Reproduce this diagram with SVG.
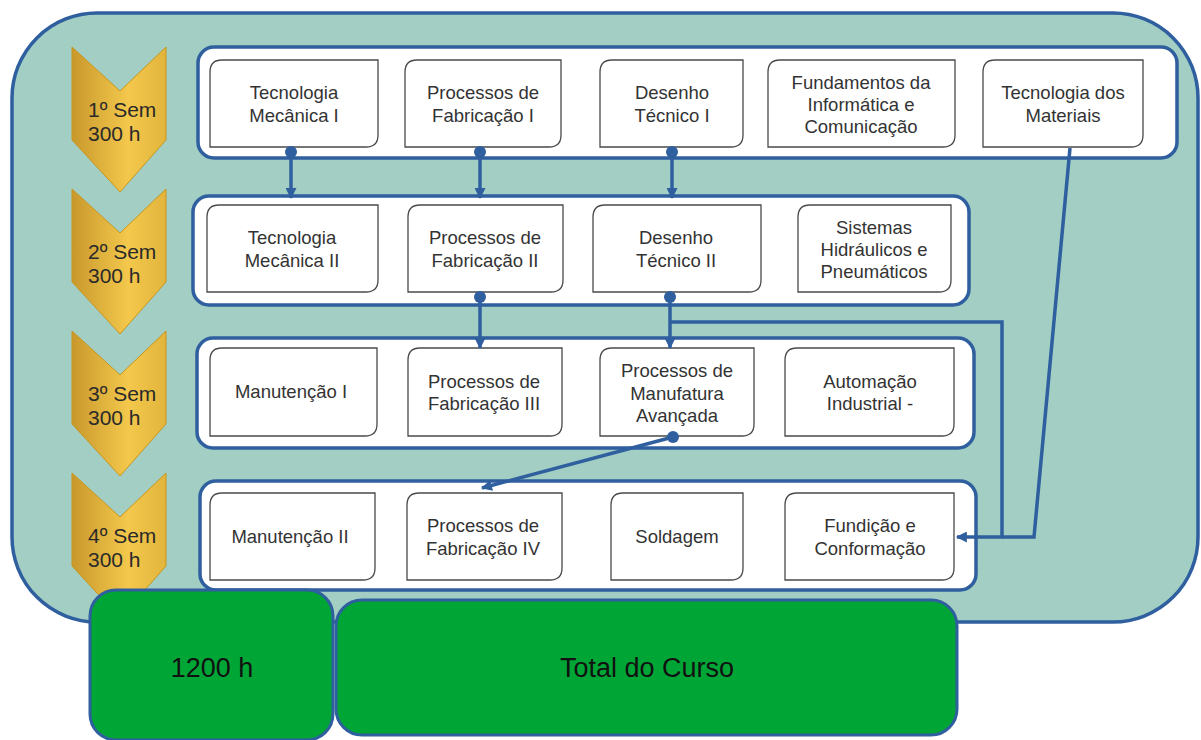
<svg xmlns="http://www.w3.org/2000/svg" width="1201" height="740" viewBox="0 0 1201 740">
<style>
.row{fill:#fff;stroke:#2f5f9e;stroke-width:3.5}
.box{fill:#fff;stroke:#4a4a4a;stroke-width:1.3}
.t{font-family:"Liberation Sans",Arial,sans-serif;font-size:18.5px;fill:#333;text-anchor:middle}
.sem{font-family:"Liberation Sans",Arial,sans-serif;font-size:21px;fill:#2a2a2a}
.big{font-family:"Liberation Sans",Arial,sans-serif;font-size:27px;fill:#111;text-anchor:middle}
.chev{fill:url(#gold);stroke:#c8961e;stroke-width:1}
.green{fill:#00a635;stroke:#2f5f9e;stroke-width:3}
.c{fill:none;stroke:#2f5f9e;stroke-width:3.5}
.dot{fill:#2f5f9e}
</style>
<defs>
<linearGradient id="gold" x1="0" y1="0" x2="1" y2="0">
<stop offset="0" stop-color="#c9982c"/>
<stop offset="0.6" stop-color="#f3c84c"/>
<stop offset="1" stop-color="#e2b43c"/>
</linearGradient>
<marker id="ah" viewBox="0 0 10 10" markerWidth="13" markerHeight="11" refX="9" refY="5" orient="auto" markerUnits="userSpaceOnUse">
<path d="M0,0 L10,5 L0,10 z" fill="#2f5f9e"/>
</marker>
</defs>

<rect id="outer" x="12" y="13" width="1186" height="609" rx="85" fill="#a2cec4" stroke="#2f5f9e" stroke-width="3.5"/>

<g id="sem1">
<path class="chev" d="M72,47 L120,91 L166,47 L166,140 L120,192 L72,140 Z"/>
<text class="sem" x="88" y="117">1º Sem</text>
<text class="sem" x="88" y="141">300 h</text>
</g>
<g id="sem2">
<path class="chev" d="M72,189 L120,233 L166,189 L166,282 L120,334 L72,282 Z"/>
<text class="sem" x="88" y="259">2º Sem</text>
<text class="sem" x="88" y="283">300 h</text>
</g>
<g id="sem3">
<path class="chev" d="M72,331 L120,375 L166,331 L166,424 L120,476 L72,424 Z"/>
<text class="sem" x="88" y="401">3º Sem</text>
<text class="sem" x="88" y="425">300 h</text>
</g>
<g id="sem4">
<path class="chev" d="M72,473 L120,517 L166,473 L166,566 L120,618 L72,566 Z"/>
<text class="sem" x="88" y="543">4º Sem</text>
<text class="sem" x="88" y="567">300 h</text>
</g>

<rect id="row1" class="row" x="198" y="47" width="979" height="111" rx="16"/>
<rect id="row2" class="row" x="193" y="196" width="776" height="109" rx="16"/>
<rect id="row3" class="row" x="197" y="338" width="777" height="110" rx="16"/>
<rect id="row4" class="row" x="200" y="481" width="776" height="109" rx="16"/>

<g id="tecmec1">
<path class="box" d="M222,60 H378 V135 Q378,147 366,147 H210 V72 Q210,60 222,60 Z"/>
<text class="t" x="294" y="99">Tecnologia</text>
<text class="t" x="294" y="122">Mecânica I</text>
</g>
<g id="procfab1">
<path class="box" d="M417,60 H561 V135 Q561,147 549,147 H405 V72 Q405,60 417,60 Z"/>
<text class="t" x="483" y="99">Processos de</text>
<text class="t" x="483" y="122">Fabricação I</text>
</g>
<g id="desenho1">
<path class="box" d="M612,60 H743 V135 Q743,147 731,147 H600 V72 Q600,60 612,60 Z"/>
<text class="t" x="672" y="99">Desenho</text>
<text class="t" x="672" y="122">Técnico I</text>
</g>
<g id="fundamentos">
<path class="box" d="M780,60 H955 V135 Q955,147 943,147 H768 V72 Q768,60 780,60 Z"/>
<text class="t" x="861" y="89">Fundamentos da</text>
<text class="t" x="861" y="111">Informática e</text>
<text class="t" x="861" y="133">Comunicação</text>
</g>
<g id="tecmat">
<path class="box" d="M995,60 H1143 V135 Q1143,147 1131,147 H983 V72 Q983,60 995,60 Z"/>
<text class="t" x="1063" y="99">Tecnologia dos</text>
<text class="t" x="1063" y="122">Materiais</text>
</g>

<g id="tecmec2">
<path class="box" d="M219,205 H378 V280 Q378,292 366,292 H207 V217 Q207,205 219,205 Z"/>
<text class="t" x="292" y="244">Tecnologia</text>
<text class="t" x="292" y="267">Mecânica II</text>
</g>
<g id="procfab2">
<path class="box" d="M420,205 H563 V280 Q563,292 551,292 H408 V217 Q408,205 420,205 Z"/>
<text class="t" x="485" y="244">Processos de</text>
<text class="t" x="485" y="267">Fabricação II</text>
</g>
<g id="desenho2">
<path class="box" d="M605,205 H761 V280 Q761,292 749,292 H593 V217 Q593,205 605,205 Z"/>
<text class="t" x="676" y="244">Desenho</text>
<text class="t" x="676" y="267">Técnico II</text>
</g>
<g id="sistemas">
<path class="box" d="M810,205 H951 V280 Q951,292 939,292 H798 V217 Q798,205 810,205 Z"/>
<text class="t" x="874" y="234">Sistemas</text>
<text class="t" x="874" y="256">Hidráulicos e</text>
<text class="t" x="874" y="278">Pneumáticos</text>
</g>

<g id="manut1">
<path class="box" d="M222,348 H377 V424 Q377,436 365,436 H210 V360 Q210,348 222,348 Z"/>
<text class="t" x="291" y="398">Manutenção I</text>
</g>
<g id="procfab3">
<path class="box" d="M420,348 H562 V424 Q562,436 550,436 H408 V360 Q408,348 420,348 Z"/>
<text class="t" x="484" y="388">Processos de</text>
<text class="t" x="484" y="410">Fabricação III</text>
</g>
<g id="manufatura">
<path class="box" d="M612,348 H754 V424 Q754,436 742,436 H600 V360 Q600,348 612,348 Z"/>
<text class="t" x="677" y="377">Processos de</text>
<text class="t" x="677" y="400">Manufatura</text>
<text class="t" x="677" y="422">Avançada</text>
</g>
<g id="automacao">
<path class="box" d="M797,348 H954 V424 Q954,436 942,436 H785 V360 Q785,348 797,348 Z"/>
<text class="t" x="870" y="388">Automação</text>
<text class="t" x="870" y="410">Industrial -</text>
</g>

<g id="manut2">
<path class="box" d="M222,493 H375 V568 Q375,580 363,580 H210 V505 Q210,493 222,493 Z"/>
<text class="t" x="290" y="543">Manutenção II</text>
</g>
<g id="procfab4">
<path class="box" d="M419,493 H562 V568 Q562,580 550,580 H407 V505 Q407,493 419,493 Z"/>
<text class="t" x="483" y="532">Processos de</text>
<text class="t" x="483" y="555">Fabricação IV</text>
</g>
<g id="soldagem">
<path class="box" d="M623,493 H743 V568 Q743,580 731,580 H611 V505 Q611,493 623,493 Z"/>
<text class="t" x="677" y="543">Soldagem</text>
</g>
<g id="fundicao">
<path class="box" d="M797,493 H954 V568 Q954,580 942,580 H785 V505 Q785,493 797,493 Z"/>
<text class="t" x="870" y="532">Fundição e</text>
<text class="t" x="870" y="555">Conformação</text>
</g>

<g id="connectors">
<line class="c" x1="291" y1="152" x2="291" y2="198" marker-end="url(#ah)"/>
<circle class="dot" cx="291" cy="152" r="6"/>
<line class="c" x1="480" y1="152" x2="480" y2="198" marker-end="url(#ah)"/>
<circle class="dot" cx="480" cy="152" r="6"/>
<line class="c" x1="672" y1="152" x2="672" y2="198" marker-end="url(#ah)"/>
<circle class="dot" cx="672" cy="152" r="6"/>
<line class="c" x1="480" y1="297" x2="480" y2="348" marker-end="url(#ah)"/>
<circle class="dot" cx="480" cy="297" r="6"/>
<line class="c" x1="670" y1="297" x2="670" y2="348" marker-end="url(#ah)"/>
<circle class="dot" cx="670" cy="297" r="6"/>
<path class="c" d="M670,322 H1002 V537 H957" marker-end="url(#ah)"/>
<path class="c" d="M1070,148 L1034,537 H1002"/>
<line class="c" x1="673" y1="437" x2="482" y2="488" marker-end="url(#ah)"/>
<circle class="dot" cx="673" cy="437" r="6"/>
</g>

<g id="hours">
<rect class="green" x="90" y="590" width="243" height="150" rx="26"/>
<text class="big" x="212" y="677">1200 h</text>
</g>
<g id="total">
<rect class="green" x="336" y="600" width="621" height="135" rx="26"/>
<text class="big" x="647" y="677">Total do Curso</text>
</g>
</svg>
